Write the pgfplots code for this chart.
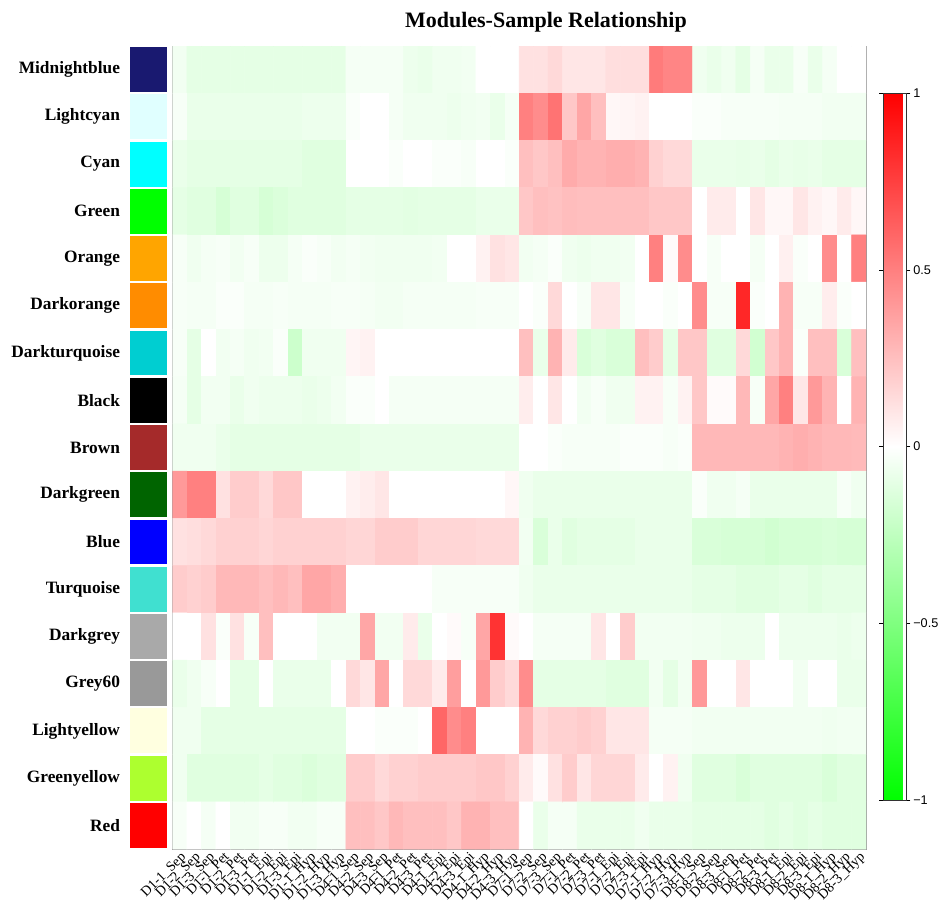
\documentclass[border=0pt]{standalone}
\usepackage{pgfplots}
\pgfplotsset{compat=1.18}
\usepackage{fontspec}
\setmainfont{Liberation Serif}
\setsansfont{Liberation Sans}
\definecolor{cMidnightblue}{RGB}{25,25,112}
\definecolor{cLightcyan}{RGB}{224,255,255}
\definecolor{cCyan}{RGB}{0,255,255}
\definecolor{cGreen}{RGB}{0,255,0}
\definecolor{cOrange}{RGB}{255,165,0}
\definecolor{cDarkorange}{RGB}{255,140,0}
\definecolor{cDarkturquoise}{RGB}{0,206,209}
\definecolor{cBlack}{RGB}{0,0,0}
\definecolor{cBrown}{RGB}{165,42,42}
\definecolor{cDarkgreen}{RGB}{0,100,0}
\definecolor{cBlue}{RGB}{0,0,255}
\definecolor{cTurquoise}{RGB}{64,224,208}
\definecolor{cDarkgrey}{RGB}{169,169,169}
\definecolor{cGreysixty}{RGB}{153,153,153}
\definecolor{cLightyellow}{RGB}{255,255,224}
\definecolor{cGreenyellow}{RGB}{173,255,47}
\definecolor{cRed}{RGB}{255,0,0}
\begin{document}
\begin{tikzpicture}
\useasboundingbox (0,0) rectangle (707.25pt,-676.5pt);
% colour swatches with module names
\begin{axis}[at={(97.5pt,-636.75pt)}, anchor=south west, scale only axis,
  width=27.75pt, height=602.25pt, xmin=0, xmax=1, ymin=0.5, ymax=17.5,
  axis line style={draw=none}, tick style={draw=none}, xtick=\empty,
  ytick={1,...,17},
  yticklabels={Red,Greenyellow,Lightyellow,Grey60,Darkgrey,Turquoise,Blue,Darkgreen,Brown,Black,Darkturquoise,Darkorange,Orange,Green,Cyan,Lightcyan,Midnightblue},
  yticklabel style={font=\bfseries\fontsize{13}{15}\selectfont, xshift=-4pt}]
\addplot[xbar, bar shift=0pt, bar width=0.95, fill=cRed, draw=none] coordinates {(1,1)};
\addplot[xbar, bar shift=0pt, bar width=0.95, fill=cGreenyellow, draw=none] coordinates {(1,2)};
\addplot[xbar, bar shift=0pt, bar width=0.95, fill=cLightyellow, draw=none] coordinates {(1,3)};
\addplot[xbar, bar shift=0pt, bar width=0.95, fill=cGreysixty, draw=none] coordinates {(1,4)};
\addplot[xbar, bar shift=0pt, bar width=0.95, fill=cDarkgrey, draw=none] coordinates {(1,5)};
\addplot[xbar, bar shift=0pt, bar width=0.95, fill=cTurquoise, draw=none] coordinates {(1,6)};
\addplot[xbar, bar shift=0pt, bar width=0.95, fill=cBlue, draw=none] coordinates {(1,7)};
\addplot[xbar, bar shift=0pt, bar width=0.95, fill=cDarkgreen, draw=none] coordinates {(1,8)};
\addplot[xbar, bar shift=0pt, bar width=0.95, fill=cBrown, draw=none] coordinates {(1,9)};
\addplot[xbar, bar shift=0pt, bar width=0.95, fill=cBlack, draw=none] coordinates {(1,10)};
\addplot[xbar, bar shift=0pt, bar width=0.95, fill=cDarkturquoise, draw=none] coordinates {(1,11)};
\addplot[xbar, bar shift=0pt, bar width=0.95, fill=cDarkorange, draw=none] coordinates {(1,12)};
\addplot[xbar, bar shift=0pt, bar width=0.95, fill=cOrange, draw=none] coordinates {(1,13)};
\addplot[xbar, bar shift=0pt, bar width=0.95, fill=cGreen, draw=none] coordinates {(1,14)};
\addplot[xbar, bar shift=0pt, bar width=0.95, fill=cCyan, draw=none] coordinates {(1,15)};
\addplot[xbar, bar shift=0pt, bar width=0.95, fill=cLightcyan, draw=none] coordinates {(1,16)};
\addplot[xbar, bar shift=0pt, bar width=0.95, fill=cMidnightblue, draw=none] coordinates {(1,17)};
\end{axis}
% heatmap
\begin{axis}[at={(129.375pt,-636.75pt)}, anchor=south west, scale only axis,
  width=520.125pt, height=602.25pt,
  xmin=-0.5, xmax=47.5, ymin=-0.5, ymax=16.5, y dir=reverse, enlargelimits=false,
  axis line style={draw=black!40},
  ytick=\empty, xtick={0,...,47},
  xticklabels={D1-1\_Sep,D1-2\_Sep,D1-3\_Sep,D1-1\_Pet,D1-2\_Pet,D1-3\_Pet,D1-1\_Epi,D1-2\_Epi,D1-3\_Epi,D1-1\_Hyp,D1-2\_Hyp,D1-3\_Hyp,
    D4-1\_Sep,D4-2\_Sep,D4-3\_Sep,D4-1\_Pet,D4-2\_Pet,D4-3\_Pet,D4-1\_Epi,D4-2\_Epi,D4-3\_Epi,D4-1\_Hyp,D4-2\_Hyp,D4-3\_Hyp,
    D7-1\_Sep,D7-2\_Sep,D7-3\_Sep,D7-1\_Pet,D7-2\_Pet,D7-3\_Pet,D7-1\_Epi,D7-2\_Epi,D7-3\_Epi,D7-1\_Hyp,D7-2\_Hyp,D7-3\_Hyp,
    D8-1\_Sep,D8-2\_Sep,D8-3\_Sep,D8-1\_Pet,D8-2\_Pet,D8-3\_Pet,D8-1\_Epi,D8-2\_Epi,D8-3\_Epi,D8-1\_Hyp,D8-2\_Hyp,D8-3\_Hyp},
  xticklabel style={rotate=45, anchor=north east, inner sep=1pt, font=\fontsize{10.5}{11}\selectfont},
  xtick style={draw=none},
  colormap={gwr}{rgb255=(0,255,0) rgb255=(255,255,255) rgb255=(255,0,0)},
  point meta min=-1, point meta max=1,
  colorbar,
  colorbar style={scale only axis, width=17.25pt, height=530.25pt,
    at={(parent axis.north east)}, anchor=north west, xshift=4.5pt, yshift=-35.25pt,
    axis line style={draw=black!80},
    ytick={-1,-0.5,0,0.5,1}, yticklabels={−1,−0.5,0,0.5,1},
    yticklabel style={font=\sffamily\fontsize{9.5}{10}\selectfont, anchor=west, inner sep=1pt, xshift=1pt},
    ytick style={draw=black}, tick align=outside, major tick length=3pt},
  title={Modules-Sample Relationship},
  title style={at={(0.5,1)}, anchor=base, yshift=8pt, xshift=20pt, font=\bfseries\fontsize{16.5}{20}\selectfont}]
\addplot[matrix plot*, mesh/cols=48, point meta=explicit]
  table[row sep=\\, x expr={mod(\coordindex,48)}, y expr={floor((\coordindex+0.5)/48)}, meta=c] {
c\\
-0.05\\ -0.1\\ -0.1\\ -0.1\\ -0.1\\ -0.1\\ -0.1\\ -0.1\\ -0.1\\ -0.1\\ -0.1\\ -0.1\\ -0.04\\ -0.04\\ -0.04\\ -0.04\\ -0.07\\ -0.08\\ -0.06\\ -0.06\\ -0.05\\ 0\\ 0\\ 0\\ 0.12\\ 0.12\\ 0.15\\ 0.1\\ 0.1\\ 0.1\\ 0.13\\ 0.13\\ 0.13\\ 0.52\\ 0.48\\ 0.48\\ -0.06\\ -0.08\\ -0.06\\ -0.1\\ -0.04\\ -0.08\\ -0.08\\ -0.03\\ -0.08\\ -0.04\\ 0\\ 0\\
-0.03\\ -0.08\\ -0.08\\ -0.08\\ -0.08\\ -0.08\\ -0.08\\ -0.08\\ -0.08\\ -0.07\\ -0.07\\ -0.07\\ -0.02\\ 0\\ 0\\ -0.04\\ -0.06\\ -0.06\\ -0.06\\ -0.07\\ -0.06\\ -0.05\\ -0.08\\ -0.04\\ 0.5\\ 0.45\\ 0.55\\ 0.22\\ 0.35\\ 0.25\\ 0.03\\ 0.04\\ 0.05\\ 0\\ 0\\ 0\\ -0.02\\ -0.02\\ -0.03\\ -0.03\\ -0.03\\ -0.03\\ -0.04\\ -0.04\\ -0.04\\ -0.05\\ -0.05\\ -0.05\\
-0.08\\ -0.1\\ -0.1\\ -0.1\\ -0.1\\ -0.1\\ -0.1\\ -0.1\\ -0.1\\ -0.12\\ -0.12\\ -0.12\\ 0\\ 0\\ 0\\ -0.02\\ 0\\ 0\\ -0.02\\ -0.02\\ -0.03\\ 0\\ 0\\ -0.02\\ 0.25\\ 0.22\\ 0.25\\ 0.33\\ 0.3\\ 0.3\\ 0.32\\ 0.32\\ 0.3\\ 0.18\\ 0.15\\ 0.15\\ -0.08\\ -0.08\\ -0.08\\ -0.09\\ -0.08\\ -0.1\\ -0.08\\ -0.09\\ -0.08\\ -0.1\\ -0.1\\ -0.1\\
-0.1\\ -0.12\\ -0.12\\ -0.16\\ -0.12\\ -0.12\\ -0.16\\ -0.14\\ -0.12\\ -0.12\\ -0.12\\ -0.12\\ -0.1\\ -0.1\\ -0.1\\ -0.1\\ -0.11\\ -0.1\\ -0.1\\ -0.1\\ -0.1\\ -0.08\\ -0.08\\ -0.08\\ 0.22\\ 0.25\\ 0.24\\ 0.26\\ 0.25\\ 0.25\\ 0.25\\ 0.25\\ 0.25\\ 0.22\\ 0.22\\ 0.22\\ 0\\ 0.08\\ 0.08\\ 0\\ 0.1\\ 0.03\\ 0.03\\ 0.1\\ 0.05\\ 0.03\\ 0.08\\ 0.03\\
-0.03\\ -0.06\\ -0.04\\ -0.03\\ -0.05\\ -0.03\\ -0.07\\ -0.07\\ -0.04\\ -0.02\\ -0.03\\ -0.05\\ -0.04\\ -0.05\\ -0.06\\ -0.06\\ -0.06\\ -0.06\\ -0.05\\ 0\\ 0\\ 0.05\\ 0.12\\ 0.1\\ -0.05\\ -0.04\\ -0.02\\ -0.06\\ -0.07\\ -0.06\\ -0.06\\ -0.05\\ 0\\ 0.5\\ 0.02\\ 0.45\\ 0\\ -0.03\\ 0\\ 0\\ -0.04\\ 0\\ 0.06\\ -0.02\\ 0\\ 0.45\\ 0\\ 0.5\\
-0.03\\ -0.04\\ -0.04\\ -0.02\\ -0.02\\ -0.04\\ -0.04\\ -0.03\\ -0.04\\ -0.04\\ -0.04\\ -0.03\\ -0.03\\ -0.04\\ -0.05\\ -0.05\\ -0.04\\ -0.04\\ -0.04\\ -0.04\\ -0.04\\ -0.03\\ -0.03\\ -0.03\\ 0\\ -0.02\\ 0.15\\ 0\\ -0.03\\ 0.1\\ 0.1\\ -0.03\\ 0\\ 0\\ -0.02\\ 0\\ 0.45\\ -0.03\\ -0.03\\ 0.85\\ -0.02\\ 0\\ 0.3\\ -0.03\\ -0.03\\ 0.07\\ -0.02\\ 0\\
-0.03\\ -0.1\\ 0\\ -0.05\\ -0.04\\ -0.06\\ -0.05\\ -0.02\\ -0.2\\ -0.06\\ -0.06\\ -0.06\\ 0.04\\ 0.05\\ 0\\ 0\\ 0\\ 0\\ 0\\ 0\\ 0\\ 0\\ 0\\ 0\\ 0.25\\ -0.08\\ 0.3\\ 0.08\\ -0.15\\ -0.12\\ -0.15\\ -0.15\\ 0.25\\ 0.2\\ -0.1\\ 0.22\\ 0.22\\ -0.12\\ -0.12\\ 0.15\\ -0.18\\ 0.22\\ 0.3\\ -0.02\\ 0.25\\ 0.25\\ -0.15\\ 0.25\\
-0.04\\ -0.1\\ -0.05\\ -0.05\\ -0.08\\ -0.06\\ -0.07\\ -0.07\\ -0.07\\ -0.08\\ -0.07\\ -0.05\\ -0.02\\ -0.02\\ 0\\ -0.04\\ -0.04\\ -0.04\\ -0.04\\ -0.04\\ -0.04\\ -0.04\\ -0.04\\ -0.04\\ 0.07\\ 0\\ 0.1\\ 0\\ -0.05\\ -0.03\\ -0.06\\ -0.06\\ 0.05\\ 0.05\\ -0.03\\ 0.05\\ 0.22\\ 0.02\\ 0.02\\ 0.28\\ -0.03\\ 0.35\\ 0.5\\ 0.1\\ 0.4\\ 0.3\\ 0\\ 0.3\\
-0.06\\ -0.06\\ -0.06\\ -0.08\\ -0.1\\ -0.1\\ -0.1\\ -0.1\\ -0.1\\ -0.1\\ -0.1\\ -0.1\\ -0.1\\ -0.08\\ -0.08\\ -0.08\\ -0.08\\ -0.08\\ -0.08\\ -0.08\\ -0.08\\ -0.08\\ -0.08\\ -0.08\\ 0\\ 0\\ -0.02\\ -0.03\\ -0.03\\ -0.03\\ -0.03\\ -0.02\\ -0.02\\ -0.02\\ -0.03\\ -0.02\\ 0.28\\ 0.28\\ 0.28\\ 0.28\\ 0.28\\ 0.28\\ 0.3\\ 0.32\\ 0.3\\ 0.28\\ 0.28\\ 0.27\\
0.4\\ 0.5\\ 0.5\\ 0.12\\ 0.2\\ 0.2\\ 0.15\\ 0.22\\ 0.22\\ 0\\ 0\\ 0\\ 0.05\\ 0.07\\ 0.1\\ 0\\ 0\\ 0\\ 0\\ 0\\ 0\\ 0\\ 0\\ 0.03\\ -0.06\\ -0.08\\ -0.08\\ -0.08\\ -0.08\\ -0.08\\ -0.08\\ -0.08\\ -0.08\\ -0.08\\ -0.08\\ -0.08\\ -0.02\\ -0.06\\ -0.06\\ -0.04\\ -0.08\\ -0.08\\ -0.08\\ -0.08\\ -0.08\\ -0.08\\ -0.03\\ -0.06\\
0.12\\ 0.13\\ 0.15\\ 0.18\\ 0.18\\ 0.18\\ 0.16\\ 0.18\\ 0.18\\ 0.18\\ 0.18\\ 0.18\\ 0.16\\ 0.16\\ 0.2\\ 0.2\\ 0.2\\ 0.16\\ 0.16\\ 0.16\\ 0.16\\ 0.15\\ 0.15\\ 0.15\\ -0.05\\ -0.15\\ -0.08\\ -0.12\\ -0.1\\ -0.1\\ -0.1\\ -0.1\\ -0.08\\ -0.08\\ -0.08\\ -0.08\\ -0.15\\ -0.15\\ -0.16\\ -0.16\\ -0.16\\ -0.18\\ -0.16\\ -0.16\\ -0.16\\ -0.15\\ -0.16\\ -0.16\\
0.2\\ 0.18\\ 0.2\\ 0.28\\ 0.28\\ 0.28\\ 0.25\\ 0.28\\ 0.25\\ 0.35\\ 0.35\\ 0.32\\ 0\\ 0\\ 0\\ 0\\ 0\\ 0\\ -0.03\\ -0.03\\ -0.03\\ -0.03\\ -0.03\\ -0.03\\ -0.06\\ -0.08\\ -0.08\\ -0.08\\ -0.08\\ -0.08\\ -0.08\\ -0.08\\ -0.08\\ -0.08\\ -0.08\\ -0.08\\ -0.1\\ -0.1\\ -0.1\\ -0.12\\ -0.12\\ -0.12\\ -0.1\\ -0.1\\ -0.12\\ -0.1\\ -0.1\\ -0.1\\
0\\ 0\\ 0.12\\ -0.02\\ 0.12\\ -0.03\\ 0.25\\ 0\\ 0\\ 0\\ -0.05\\ -0.05\\ -0.05\\ 0.35\\ -0.05\\ -0.05\\ 0.08\\ -0.08\\ 0\\ 0.02\\ -0.03\\ 0.35\\ 0.8\\ 0.02\\ 0\\ -0.04\\ -0.04\\ -0.04\\ -0.04\\ 0.1\\ 0\\ 0.2\\ -0.05\\ -0.05\\ -0.05\\ -0.05\\ -0.06\\ -0.06\\ -0.07\\ -0.07\\ -0.07\\ 0\\ -0.07\\ -0.07\\ -0.07\\ -0.07\\ -0.08\\ -0.07\\
-0.08\\ -0.06\\ -0.03\\ 0\\ -0.1\\ -0.1\\ 0\\ -0.08\\ -0.08\\ -0.08\\ -0.08\\ 0\\ 0.15\\ 0.1\\ 0.35\\ 0\\ 0.15\\ 0.15\\ 0.08\\ 0.38\\ 0\\ 0.4\\ 0.2\\ 0.15\\ 0.45\\ -0.1\\ -0.1\\ -0.1\\ -0.1\\ -0.1\\ -0.12\\ -0.12\\ -0.12\\ -0.05\\ -0.1\\ -0.05\\ 0.4\\ 0\\ 0\\ 0.1\\ 0\\ 0\\ 0\\ -0.05\\ 0\\ 0\\ -0.08\\ -0.08\\
-0.06\\ -0.06\\ -0.1\\ -0.1\\ -0.1\\ -0.1\\ -0.1\\ -0.1\\ -0.1\\ -0.1\\ -0.1\\ -0.1\\ 0\\ 0\\ -0.02\\ -0.02\\ -0.02\\ 0\\ 0.6\\ 0.45\\ 0.5\\ 0\\ 0\\ 0\\ 0.3\\ 0.15\\ 0.18\\ 0.18\\ 0.2\\ 0.18\\ 0.1\\ 0.1\\ 0.1\\ -0.04\\ -0.04\\ -0.04\\ -0.05\\ -0.05\\ -0.05\\ -0.05\\ -0.05\\ -0.05\\ -0.05\\ -0.05\\ -0.05\\ -0.06\\ -0.05\\ -0.05\\
-0.06\\ -0.12\\ -0.12\\ -0.12\\ -0.12\\ -0.12\\ -0.1\\ -0.12\\ -0.12\\ -0.14\\ -0.12\\ -0.12\\ 0.2\\ 0.2\\ 0.15\\ 0.18\\ 0.18\\ 0.2\\ 0.2\\ 0.2\\ 0.2\\ 0.22\\ 0.22\\ 0.18\\ 0.08\\ 0.02\\ 0.12\\ 0.2\\ 0.1\\ 0.16\\ 0.16\\ 0.16\\ 0.08\\ 0\\ 0.05\\ -0.06\\ -0.12\\ -0.12\\ -0.12\\ -0.15\\ -0.12\\ -0.12\\ -0.12\\ -0.12\\ -0.12\\ -0.15\\ -0.12\\ -0.12\\
-0.03\\ 0\\ -0.04\\ 0\\ -0.05\\ -0.05\\ -0.03\\ -0.03\\ -0.05\\ -0.05\\ -0.03\\ -0.03\\ 0.25\\ 0.25\\ 0.22\\ 0.28\\ 0.25\\ 0.25\\ 0.25\\ 0.22\\ 0.3\\ 0.3\\ 0.25\\ 0.25\\ 0\\ -0.08\\ -0.04\\ -0.04\\ -0.08\\ -0.08\\ -0.08\\ -0.08\\ -0.06\\ -0.08\\ -0.08\\ -0.08\\ -0.1\\ -0.1\\ -0.1\\ -0.1\\ -0.1\\ -0.12\\ -0.1\\ -0.12\\ -0.1\\ -0.12\\ -0.12\\ -0.12\\
};
\end{axis}
\end{tikzpicture}
\end{document}
